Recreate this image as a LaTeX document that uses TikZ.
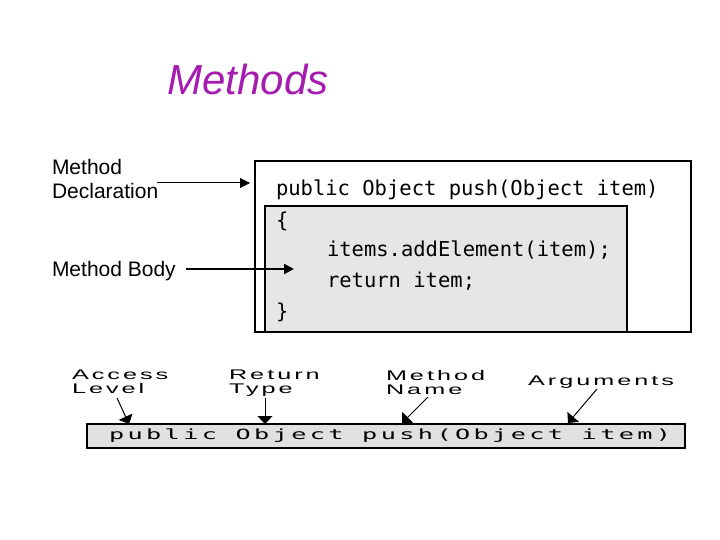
\documentclass[tikz,border=0pt]{standalone}
\usepackage{fontspec}
\setmainfont{Liberation Sans}
\newfontfamily\codefont{DejaVu Sans Mono}
\newfontfamily\widemono[LetterSpace=13.5]{DejaVu Sans Mono}
\newfontfamily\widesans[LetterSpace=12]{Liberation Sans}
\newcommand{\stretchtext}[1]{\scalebox{1.8}[1]{#1}}
\usetikzlibrary{arrows.meta}
\definecolor{titlepurple}{RGB}{166,28,176}
\definecolor{boxgray}{RGB}{230,230,230}
\definecolor{strgray}{RGB}{224,224,224}
\begin{document}
\begin{tikzpicture}[x=1pt,y=-1pt,
  every node/.style={inner sep=0pt, outer sep=0pt},
  titletext/.style={font=\fontsize{42}{50}\selectfont\itshape, text=titlepurple},
  lbl/.style={font=\fontsize{21}{24}\selectfont, align=left},
  code/.style={font=\codefont\fontsize{20.5}{24}\selectfont},
  widelbl/.style={font=\widesans\fontsize{14}{14}\selectfont, align=left},
  widecode/.style={font=\widemono\fontsize{14}{15}\selectfont},
  bigarrow/.style={-{Triangle[width=10pt,length=10pt]}},
  smallarrow/.style={-{Triangle[width=15pt,length=8pt]}, line width=1pt},
  outerbox/.style={draw, line width=2pt, fill=white, anchor=north west},
  innerbox/.style={draw, line width=2pt, fill=boxgray, anchor=north west},
  strbox/.style={draw, line width=1.5pt, fill=strgray, anchor=north west}
]
\useasboundingbox (0,0) rectangle (720,540);
\fill[white] (0,0) rectangle (720,540);

% title
\node[titletext, anchor=base] (title) at (248,95) {Methods};

% boxes
\node[outerbox, minimum width=436pt, minimum height=171pt] (outer) at (255,161) {};
\node[innerbox, minimum width=362pt, minimum height=126pt] (inner) at (265,206) {};

% code text
\node[code, anchor=base west] (sig) at (276,196) {public Object push(Object item)};
\node[code, anchor=base west] (open) at (276,227) {\{};
\node[code, anchor=base west] (l1) at (327,256) {items.addElement(item);};
\node[code, anchor=base west] (l2) at (327,287) {return item;};
\node[code, anchor=base west] (close) at (276,318) {\}};

% left labels
\node[lbl, anchor=north west] (decl) at (52,159) {Method\\Declaration};
\node[lbl, anchor=base west] (body) at (52,276) {Method Body};

\coordinate (declStart) at (157,183);
\coordinate (declTip) at (250,183);
\coordinate (bodyStart) at (186,269);
\coordinate (bodyTip) at (294,269);
\draw[bigarrow, line width=1pt] (declStart) -- (declTip);
\draw[bigarrow, line width=2pt] (bodyStart) -- (bodyTip);

% bottom string box
\node[strbox, minimum width=598pt, minimum height=24pt] (str) at (87,424) {};
\node[widecode, anchor=west] (strtext) at (109,436) {\stretchtext{public Object push(Object item)}};

% bottom labels
\node[widelbl, anchor=north west] (access) at (72,370) {\stretchtext{Access}\\\stretchtext{Level}};
\node[widelbl, anchor=north west] (rtype) at (229,370) {\stretchtext{Return}\\\stretchtext{Type}};
\node[widelbl, anchor=north west] (mname) at (386,370) {\stretchtext{Method}\\\stretchtext{Name}};
\node[widelbl, anchor=north west] (args) at (528,376) {\stretchtext{Arguments}};

\coordinate (accS) at (117,398);
\coordinate (accT) at (129,424);
\coordinate (retS) at (265,398);
\coordinate (retT) at (265,424);
\coordinate (nameS) at (428,397);
\coordinate (nameT) at (402,423);
\coordinate (argS) at (597,389);
\coordinate (argT) at (568,423);
\draw[smallarrow] (accS) -- (accT);
\draw[smallarrow] (retS) -- (retT);
\draw[smallarrow] (nameS) -- (nameT);
\draw[smallarrow] (argS) -- (argT);
\end{tikzpicture}
\end{document}
